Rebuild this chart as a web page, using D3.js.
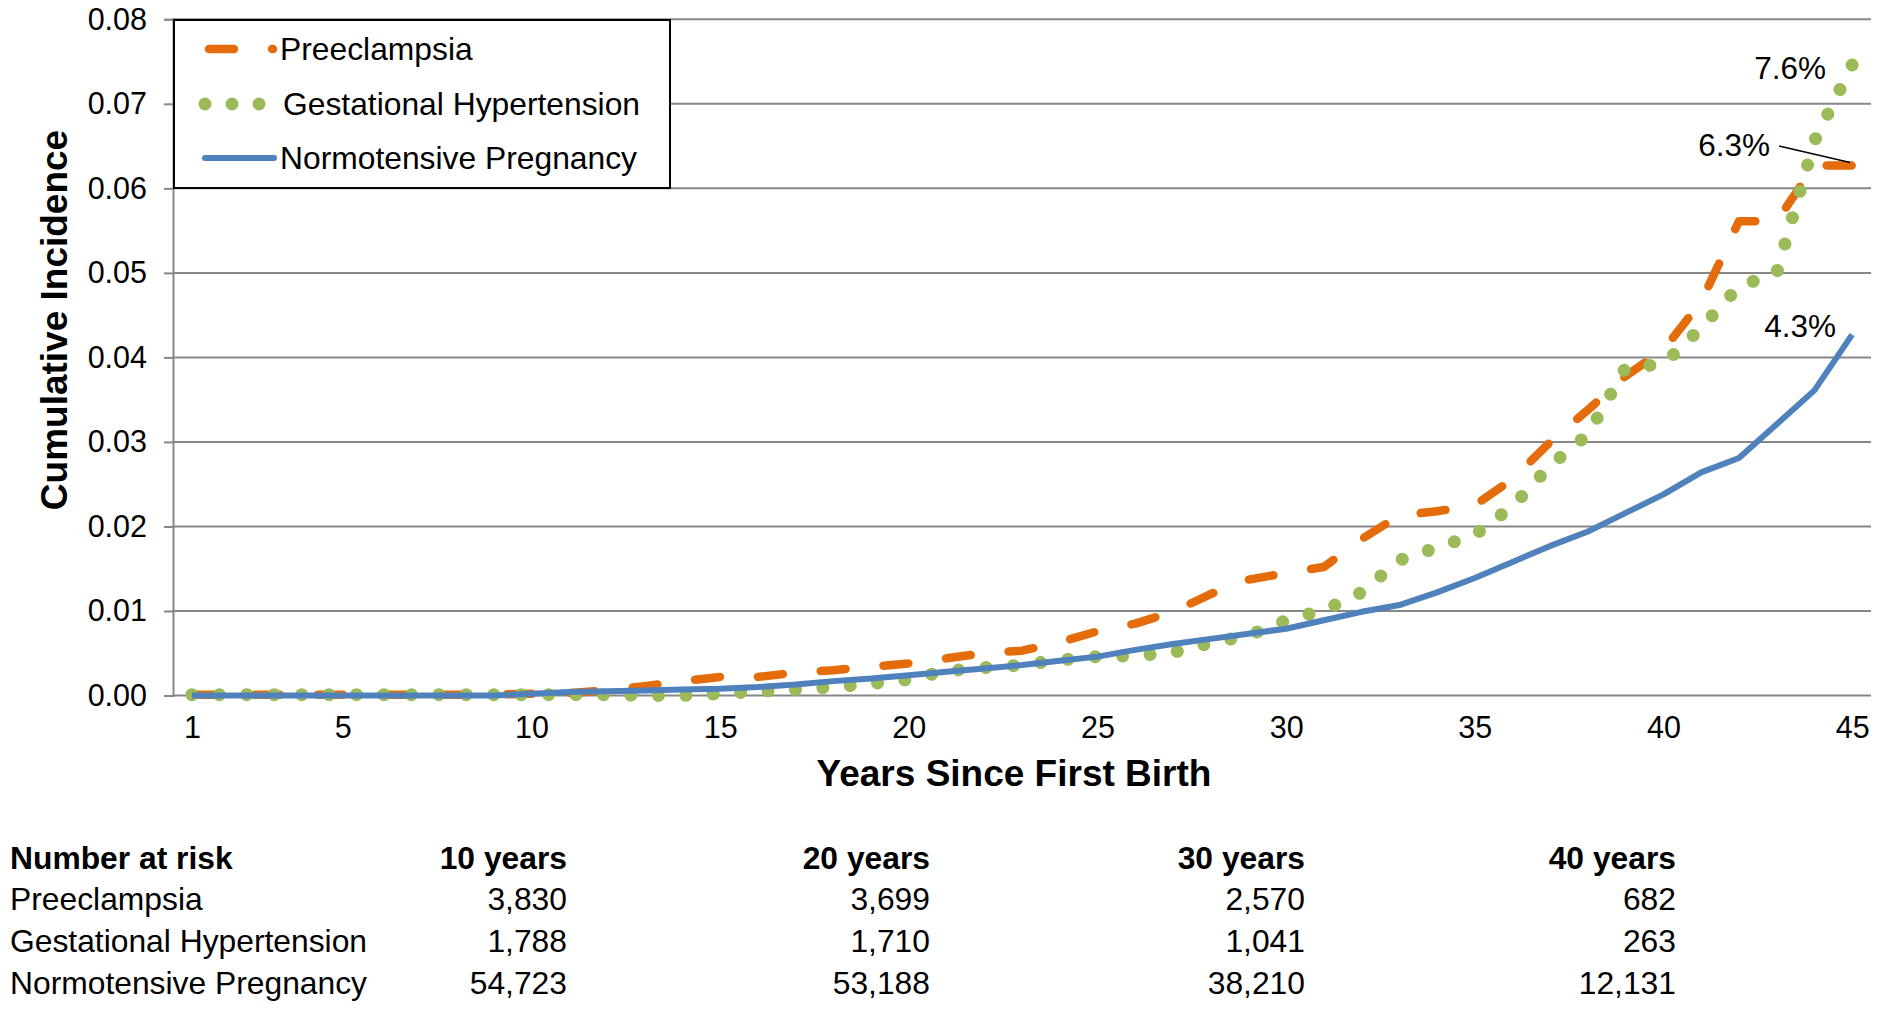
<!DOCTYPE html>
<html>
<head>
<meta charset="utf-8">
<script src="https://cdn.jsdelivr.net/npm/d3@7"></script>
<style>
  html, body { margin: 0; padding: 0; background: #fff; }
  svg { display: block; }
  text { font-family: "Liberation Sans", Arial, Helvetica, sans-serif; fill: #000; }
</style>
</head>
<body>
<svg id="chart" width="1893" height="1010"></svg>
<script>
// ---------- DATA ----------
const years = [1,2,3,4,5,6,7,8,9,10,11,12,13,14,15,16,17,18,19,20,21,22,23,24,25,26,27,28,29,30,31,32,33,34,35,36,37,38,39,40,41,42,43,44,45];

const preeclampsia = [0.0001,0.0001,0.0001,0.0001,0.0001,0.0001,0.0001,0.0001,0.0001,0.0002,
  0.0003,0.0006,0.0011,0.0017,0.0022,0.0022,0.0027,0.0030,0.0034,0.0038,
  0.0044,0.0050,0.0053,0.0063,0.0076,0.0085,0.0099,0.0120,0.0137,0.0145,
  0.0152,0.0185,0.0213,0.0218,0.0225,0.0256,0.0300,0.0338,0.0378,0.0409,
  0.0466,0.0561,0.0561,0.0627,0.0627];

const gestational = [0.0001,0.0001,0.0001,0.0001,0.0001,0.0001,0.0001,0.0001,0.0001,0.0001,
  0.0001,0.0001,0.0000,0.0000,0.0002,0.0005,0.0007,0.0010,0.0014,0.0019,
  0.0029,0.0033,0.0036,0.0042,0.0046,0.0047,0.0051,0.0062,0.0071,0.0089,
  0.0101,0.0122,0.0160,0.0175,0.0190,0.0224,0.0272,0.0309,0.0388,0.0392,
  0.0435,0.0484,0.0500,0.0656,0.0746];

const normotensive = [0.0000,0.0000,0.0000,0.0000,0.0000,0.0000,0.0000,0.0000,0.0000,0.0002,
  0.0004,0.0005,0.0006,0.0007,0.0008,0.0010,0.0013,0.0017,0.0020,0.0024,
  0.0028,0.0032,0.0036,0.0041,0.0046,0.0054,0.0061,0.0067,0.0073,0.0079,
  0.0089,0.0099,0.0107,0.0122,0.0139,0.0158,0.0177,0.0194,0.0216,0.0238,
  0.0264,0.0281,0.0321,0.0361,0.0427];

const seriesNames = ["Preeclampsia", "Gestational Hypertension", "Normotensive Pregnancy"];
const xTickValues = [1,5,10,15,20,25,30,35,40,45];
const yTickValues = [0,0.01,0.02,0.03,0.04,0.05,0.06,0.07,0.08];
const endLabels = ["6.3%", "7.6%", "4.3%"];

const riskHeader = "Number at risk";
const riskColumns = ["10 years", "20 years", "30 years", "40 years"];
const riskPreeclampsia = [3830, 3699, 2570, 682];
const riskGestational = [1788, 1710, 1041, 263];
const riskNormotensive = [54723, 53188, 38210, 12131];

// ---------- LAYOUT / STYLE ----------
const svg = d3.select("#chart");
svg.append("rect").attr("width", 1893).attr("height", 1010).attr("fill", "#fff");

const plot = { left: 173, right: 1871, top: 19.3, bottom: 695.5 };
const colors = { pre: "#E46C0A", ges: "#9BBB59", nor: "#4F81BD" };
const gridColor = "#878787";

const x = d3.scalePoint().domain(years).range([plot.left, plot.right]).padding(0.5);
const y = d3.scaleLinear().domain([0, 0.08]).range([plot.bottom, plot.top]);

// gridlines
svg.append("g").selectAll("line").data(yTickValues).join("line")
  .attr("x1", plot.left).attr("x2", plot.right)
  .attr("y1", d => y(d)).attr("y2", d => y(d))
  .attr("stroke", gridColor).attr("stroke-width", 2);

// y axis
const yAxis = d3.axisLeft(y).tickValues(yTickValues).tickFormat(d3.format(".2f")).tickSize(9).tickPadding(17);
const gy = svg.append("g").attr("transform", `translate(${plot.left},0)`).call(yAxis);
gy.select(".domain").attr("stroke", gridColor).attr("stroke-width", 2);
gy.selectAll(".tick line").attr("stroke", gridColor).attr("stroke-width", 2);
gy.selectAll(".tick text").attr("font-size", 30.5).attr("fill", "#000")
  .attr("font-family", "'Liberation Sans', Arial, sans-serif");

// x axis (labels only)
const xAxis = d3.axisBottom(x).tickValues(xTickValues).tickSize(0).tickPadding(21);
const gx = svg.append("g").attr("transform", `translate(0,${plot.bottom})`).call(xAxis);
gx.select(".domain").remove();
gx.selectAll(".tick text").attr("font-size", 30.5).attr("fill", "#000")
  .attr("font-family", "'Liberation Sans', Arial, sans-serif");

// axis titles
svg.append("text").attr("x", 1014).attr("y", 786).attr("text-anchor", "middle")
  .attr("font-size", 37).attr("font-weight", "bold").text("Years Since First Birth");
svg.append("text").attr("transform", "translate(67,320) rotate(-90)").attr("text-anchor", "middle")
  .attr("font-size", 37).attr("font-weight", "bold").text("Cumulative Incidence");

// lines
const line = d3.line().x((d, i) => x(years[i])).y(d => y(d));

svg.append("path").datum(preeclampsia).attr("d", line)
  .attr("fill", "none").attr("stroke", colors.pre).attr("stroke-width", 8.5)
  .attr("stroke-linecap", "round").attr("stroke-linejoin", "round")
  .attr("stroke-dasharray", "25,38");

const gPath = svg.append("path").datum(gestational).attr("d", line)
  .attr("fill", "none").attr("stroke", colors.ges).attr("stroke-width", 13)
  .attr("stroke-linecap", "round").attr("stroke-linejoin", "round");
// make dot spacing fit the path so a dot lands on both ends
const gLen = gPath.node().getTotalLength();
const nDots = Math.round(gLen / 27.5);
gPath.attr("stroke-dasharray", `0.01,${(gLen / nDots - 0.01).toFixed(4)}`);

svg.append("path").datum(normotensive).attr("d", line)
  .attr("fill", "none").attr("stroke", colors.nor).attr("stroke-width", 6)
  .attr("stroke-linejoin", "round");

// end labels
const last = years.length - 1;
const lbl = svg.append("g").attr("font-size", 31.5);
lbl.append("text").attr("x", 1770).attr("y", 156).attr("text-anchor", "end").text(endLabels[0]);
lbl.append("text").attr("x", 1826).attr("y", 79).attr("text-anchor", "end").text(endLabels[1]);
lbl.append("text").attr("x", 1836).attr("y", 337).attr("text-anchor", "end").text(endLabels[2]);
svg.append("line").attr("x1", 1779).attr("y1", 146)
  .attr("x2", x(years[last]) - 2).attr("y2", y(preeclampsia[last]) - 3)
  .attr("stroke", "#000").attr("stroke-width", 1.6);

// legend
const lg = svg.append("g");
lg.append("rect").attr("x", 174).attr("y", 20).attr("width", 496).attr("height", 168)
  .attr("fill", "#fff").attr("stroke", "#000").attr("stroke-width", 2);
const rowsY = [49, 104, 158];
lg.append("line").attr("x1", 209).attr("x2", 273).attr("y1", rowsY[0]).attr("y2", rowsY[0])
  .attr("stroke", colors.pre).attr("stroke-width", 8.5).attr("stroke-linecap", "round")
  .attr("stroke-dasharray", "25,38");
lg.append("line").attr("x1", 205).attr("x2", 262).attr("y1", rowsY[1]).attr("y2", rowsY[1])
  .attr("stroke", colors.ges).attr("stroke-width", 13).attr("stroke-linecap", "round")
  .attr("stroke-dasharray", "0.01,26.99");
lg.append("line").attr("x1", 205).attr("x2", 274).attr("y1", rowsY[2]).attr("y2", rowsY[2])
  .attr("stroke", colors.nor).attr("stroke-width", 6).attr("stroke-linecap", "round");
seriesNames.forEach((n, i) => {
  lg.append("text").attr("x", i === 1 ? 283 : 280).attr("y", rowsY[i] + 11)
    .attr("font-size", 31.8).text(n);
});

// number at risk table
const fmt = d3.format(",");
const colRight = [567, 930, 1305, 1676];
const tableY = [869, 910, 952, 994];
const tbl = svg.append("g").attr("font-size", 31.8);
tbl.append("text").attr("x", 10).attr("y", tableY[0]).attr("font-weight", "bold").text(riskHeader);
riskColumns.forEach((c, j) => {
  tbl.append("text").attr("x", colRight[j]).attr("y", tableY[0]).attr("text-anchor", "end")
    .attr("font-weight", "bold").text(c);
});
[riskPreeclampsia, riskGestational, riskNormotensive].forEach((arr, i) => {
  tbl.append("text").attr("x", 10).attr("y", tableY[i + 1]).text(seriesNames[i]);
  arr.forEach((v, j) => {
    tbl.append("text").attr("x", colRight[j]).attr("y", tableY[i + 1]).attr("text-anchor", "end").text(fmt(v));
  });
});
</script>
</body>
</html>
